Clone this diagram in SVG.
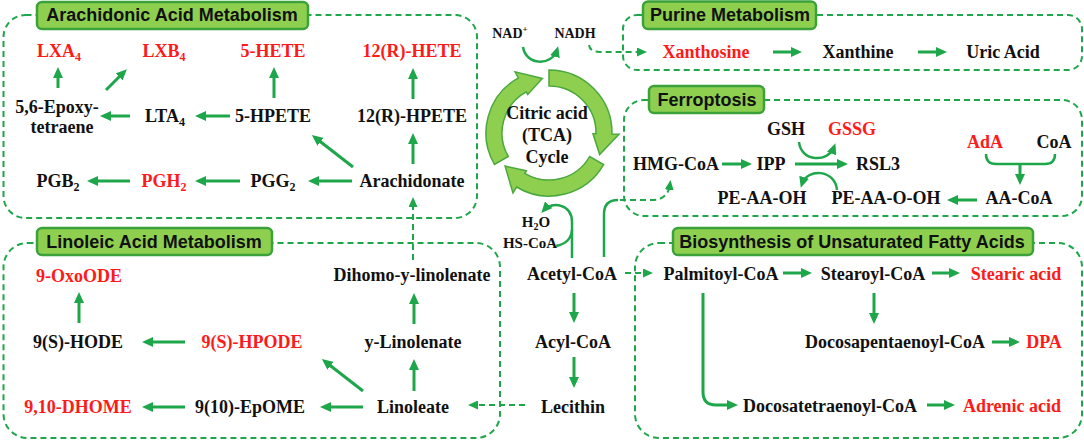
<svg xmlns="http://www.w3.org/2000/svg" width="1084" height="441" viewBox="0 0 1084 441">
<style>
.t{font-family:"Liberation Serif","Times New Roman",serif;font-weight:bold;font-size:18px;fill:#111;text-anchor:middle}
.r{fill:#ff1a1a}
.sm{font-size:15px}
.xs{font-size:14px}
.h{font-family:"Liberation Sans",Arial,sans-serif;font-weight:bold;font-size:18px;fill:#111;text-anchor:middle}
.box{fill:none;stroke:#1ea64b;stroke-width:2;stroke-dasharray:6 4}
.tb{fill:#8fcf50;stroke:#3ba23a;stroke-width:2.5}
.a{fill:none;stroke:#1ea64b;stroke-width:3;marker-end:url(#ah)}
.d{fill:none;stroke:#1ea64b;stroke-width:2;stroke-dasharray:6 4;marker-end:url(#dh)}
.dn{fill:none;stroke:#1ea64b;stroke-width:2;stroke-dasharray:6 4}
.c{fill:none;stroke:#1ea64b;stroke-width:2.5}
.ca{fill:none;stroke:#1ea64b;stroke-width:2.5;marker-end:url(#ah)}
.tca{fill:#8fcf50;stroke:#4aa83c;stroke-width:1.5}
</style>
<defs>
<marker id="ah" markerUnits="userSpaceOnUse" viewBox="0 0 11 10" markerWidth="11" markerHeight="10" refX="7" refY="5" orient="auto"><path d="M0,0L11,5L0,10z" fill="#1ea64b"/></marker>
<marker id="dh" markerUnits="userSpaceOnUse" viewBox="0 0 10 9" markerWidth="10" markerHeight="9" refX="6" refY="4.5" orient="auto"><path d="M0,0L10,4.5L0,9z" fill="#1ea64b"/></marker>
</defs>

<g id="clusters">
<rect class="box" x="3.5" y="15" width="473.5" height="203" rx="22"/>
<rect class="box" x="623" y="15" width="459" height="55" rx="14"/>
<rect class="box" x="624" y="100" width="458" height="116" rx="20"/>
<rect class="box" x="3.5" y="243" width="496.5" height="195" rx="24"/>
<rect class="box" x="635" y="243" width="447" height="195" rx="24"/>
</g>

<g id="connectors">
<path class="a" d="M58,88L58,71"/>
<path class="a" d="M106,90L124,72"/>
<path class="a" d="M274,98L274,71"/>
<path class="a" d="M413,99L413,72"/>
<path class="a" d="M413,164L413,137"/>
<path class="a" d="M353,167L315,137.5"/>
<path class="a" d="M352,181L312,181"/>
<path class="a" d="M240,181L199,181"/>
<path class="a" d="M130,181L91,181"/>
<path class="a" d="M230,116L199,116"/>
<path class="a" d="M130,116L104,116"/>
<path class="a" d="M79,323L79,296"/>
<path class="a" d="M185,342L146,342"/>
<path class="a" d="M185,407L146,407"/>
<path class="a" d="M363,407L324,407"/>
<path class="a" d="M363,391L325,361.5"/>
<path class="a" d="M414,391L414,363"/>
<path class="a" d="M414,324L414,297"/>
<path class="d" d="M413,260L413,201"/>
<path class="a" d="M574,293L574,319"/>
<path class="a" d="M574,357L574,384"/>
<path class="d" d="M525,405L472,405"/>
<path class="d" d="M625,273L649,273"/>
<path class="d" d="M589,45Q590,52 600,52L643,52"/>
<path class="c" d="M604,257L604,214Q604,200 618,200"/>
<path class="d" d="M620,200L652,200Q668,200 670,184"/>
<path class="ca" d="M523,47C526,66 552,66 557,50"/>
<path class="ca" d="M572,258L572,222C572,204 552,201 544,210"/>
<path class="c" d="M556,246Q571,243 572,230"/>
<path class="a" d="M722,164L748,164"/>
<path class="a" d="M795,164L844,164"/>
<path class="ca" d="M799,142C801,162 828,163 834,147"/>
<path class="ca" d="M837,190C835,169 807,168 802,184"/>
<path class="c" d="M986,154Q986,164 996,164L1045,164Q1055,164 1055,154"/>
<path class="a" d="M1020,164L1020,181"/>
<path class="a" d="M977,200L951,200"/>
<path class="a" d="M773,52L798,52"/>
<path class="a" d="M918,52L943,52"/>
<path class="a" d="M783,273L808,273"/>
<path class="a" d="M932,273L956,273"/>
<path class="a" d="M874,293L874,320"/>
<path class="a" d="M992,342L1016,342"/>
<path class="a" d="M703,293L703,392Q703,405 716,405L734,405"/>
<path class="a" d="M927,405L951,405"/>
</g>

<g id="tca-cycle">
<path class="tca" d="M494.44,164.5A63,63 0 0,1 518.46,77.9L515.06,71.78L542.3,78.41L527.67,94.52L526.21,91.89A47,47 0 0,0 508.3,156.5Z"/>
<path class="tca" d="M549,70A63,63 0 0,1 611.99,134.1L618.99,134.22L599.63,154.49L592.99,133.77L595.99,133.82A47,47 0 0,0 549,86Z"/>
<path class="tca" d="M603.56,164.5A63,63 0 0,1 516.55,187L512.95,193L505.08,166.1L526.34,170.72L524.79,173.29A47,47 0 0,0 589.7,156.5Z"/>
<text class="t" x="547" y="119">Citric acid</text>
<text class="t" x="547" y="141">(TCA)</text>
<text class="t" x="547" y="163">Cycle</text>
</g>

<g id="title-arachidonic"><rect class="tb" x="37" y="2" width="271" height="27" rx="5"/><text class="h" x="172" y="21">Arachidonic Acid Metabolism</text></g>
<g id="title-purine"><rect class="tb" x="643" y="1.5" width="173" height="27.5" rx="5"/><text class="h" x="730" y="21">Purine Metabolism</text></g>
<g id="title-ferroptosis"><rect class="tb" x="649" y="86" width="115" height="27" rx="5"/><text class="h" x="707" y="106">Ferroptosis</text></g>
<g id="title-linoleic"><rect class="tb" x="37" y="228" width="235" height="27" rx="5"/><text class="h" x="154" y="248">Linoleic Acid Metabolism</text></g>
<g id="title-biosynthesis"><rect class="tb" x="673" y="228" width="360" height="27" rx="5"/><text class="h" x="852" y="248">Biosynthesis of Unsaturated Fatty Acids</text></g>

<g id="n-lxa4"><text class="t r" x="59" y="57">LXA<tspan font-size="12" dy="4">4</tspan></text></g>
<g id="n-lxb4"><text class="t r" x="164" y="57">LXB<tspan font-size="12" dy="4">4</tspan></text></g>
<g id="n-5hete"><text class="t r" x="273" y="57">5-HETE</text></g>
<g id="n-12rhete"><text class="t r" x="412" y="57">12(R)-HETE</text></g>
<g id="n-epoxy"><text class="t" x="57" y="113">5,6-Epoxy-</text><text class="t" x="62" y="133">tetraene</text></g>
<g id="n-lta4"><text class="t" x="165" y="122">LTA<tspan font-size="12" dy="4">4</tspan></text></g>
<g id="n-5hpete"><text class="t" x="273" y="122">5-HPETE</text></g>
<g id="n-12rhpete"><text class="t" x="412" y="122">12(R)-HPETE</text></g>
<g id="n-pgb2"><text class="t" x="58" y="187">PGB<tspan font-size="12" dy="4">2</tspan></text></g>
<g id="n-pgh2"><text class="t r" x="164" y="187">PGH<tspan font-size="12" dy="4">2</tspan></text></g>
<g id="n-pgg2"><text class="t" x="273" y="187">PGG<tspan font-size="12" dy="4">2</tspan></text></g>
<g id="n-arachidonate"><text class="t" x="412" y="187">Arachidonate</text></g>

<g id="n-oxoode"><text class="t r" x="79" y="282">9-OxoODE</text></g>
<g id="n-hode"><text class="t" x="78" y="348">9(S)-HODE</text></g>
<g id="n-hpode"><text class="t r" x="252" y="348">9(S)-HPODE</text></g>
<g id="n-dhome"><text class="t r" x="78" y="413">9,10-DHOME</text></g>
<g id="n-epome"><text class="t" x="250" y="413">9(10)-EpOME</text></g>
<g id="n-dihomo"><text class="t" x="412" y="281">Dihomo-y-linolenate</text></g>
<g id="n-ylin"><text class="t" x="413" y="348">y-Linolenate</text></g>
<g id="n-linoleate"><text class="t" x="413" y="413">Linoleate</text></g>

<g id="n-acetylcoa"><text class="t" x="572" y="280">Acetyl-CoA</text></g>
<g id="n-acylcoa"><text class="t" x="573" y="348">Acyl-CoA</text></g>
<g id="n-lecithin"><text class="t" x="573" y="413">Lecithin</text></g>
<g id="n-h2o"><text class="t sm" x="536" y="227">H<tspan font-size="10" dy="3">2</tspan><tspan dy="-3">O</tspan></text><text class="t sm" x="530" y="248">HS-CoA</text></g>
<g id="n-nad"><text class="t xs" x="510" y="38">NAD<tspan font-size="9" dy="-6">+</tspan></text></g>
<g id="n-nadh"><text class="t xs" x="575" y="38">NADH</text></g>

<g id="n-xanthosine"><text class="t r" x="706" y="58">Xanthosine</text></g>
<g id="n-xanthine"><text class="t" x="858" y="58">Xanthine</text></g>
<g id="n-uric"><text class="t" x="1003" y="58">Uric Acid</text></g>

<g id="n-gsh"><text class="t" x="786" y="135">GSH</text></g>
<g id="n-gssg"><text class="t r" x="852" y="135">GSSG</text></g>
<g id="n-ada"><text class="t r" x="985" y="148">AdA</text></g>
<g id="n-coa"><text class="t" x="1054" y="148">CoA</text></g>
<g id="n-hmgcoa"><text class="t" x="676" y="170">HMG-CoA</text></g>
<g id="n-ipp"><text class="t" x="771" y="170">IPP</text></g>
<g id="n-rsl3"><text class="t" x="878" y="170">RSL3</text></g>
<g id="n-peaaoh"><text class="t" x="762" y="204">PE-AA-OH</text></g>
<g id="n-peaaooh"><text class="t" x="886" y="204">PE-AA-O-OH</text></g>
<g id="n-aacoa"><text class="t" x="1019" y="204">AA-CoA</text></g>

<g id="n-palmitoyl"><text class="t" x="721" y="280">Palmitoyl-CoA</text></g>
<g id="n-stearoyl"><text class="t" x="873" y="280">Stearoyl-CoA</text></g>
<g id="n-stearic"><text class="t r" x="1016" y="280">Stearic acid</text></g>
<g id="n-docosapenta"><text class="t" x="895" y="348">Docosapentaenoyl-CoA</text></g>
<g id="n-dpa"><text class="t r" x="1044" y="348">DPA</text></g>
<g id="n-docosatetra"><text class="t" x="830" y="412">Docosatetraenoyl-CoA</text></g>
<g id="n-adrenic"><text class="t r" x="1012" y="412">Adrenic acid</text></g>
</svg>
